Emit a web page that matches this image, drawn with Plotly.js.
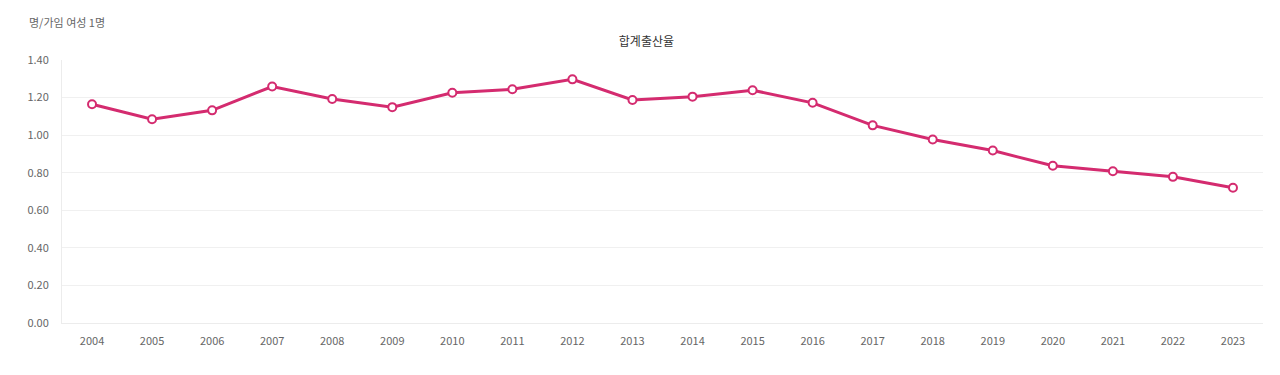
<!DOCTYPE html>
<html>
<head>
<meta charset="utf-8">
<script src="https://cdn.plot.ly/plotly-3.0.1.min.js"></script>
<style>html,body{margin:0;padding:0;background:#fff;}#chart{width:1280px;height:375px;}</style>
</head>
<body>
<div id="chart"></div>
<script>
const years = ['2004','2005','2006','2007','2008','2009','2010','2011','2012','2013','2014','2015','2016','2017','2018','2019','2020','2021','2022','2023'];
const tfr = [1.164,1.085,1.132,1.259,1.192,1.149,1.226,1.244,1.297,1.187,1.205,1.239,1.172,1.052,0.977,0.918,0.837,0.808,0.778,0.720];
const yTicks = [0,0.2,0.4,0.6,0.8,1.0,1.2,1.4];
const yTickText = ['0.00','0.20','0.40','0.60','0.80','1.00','1.20','1.40'];
const chartTitle = '합계출산율';
const unitLabel = '명/가임 여성 1명';

const font = '"Noto Sans CJK KR", "Noto Sans", sans-serif';
const trace = {
  x: years, y: tfr, type: 'scatter', mode: 'lines+markers',
  line: {color: '#d42b6f', width: 3},
  marker: {size: 8, color: '#ffffff', line: {color: '#d42b6f', width: 2}},
  hoverinfo: 'skip', cliponaxis: false
};
const layout = {
  width: 1280, height: 375,
  margin: {l: 62, r: 17, t: 60, b: 52},
  paper_bgcolor: '#fff', plot_bgcolor: '#fff',
  showlegend: false,
  font: {family: font, color: '#666', size: 11},
  title: {text: chartTitle, xref: 'container', x: 0.505, xanchor: 'center', yref: 'container', y: 1 - 42/375, yanchor: 'middle', font: {family: font, size: 12, color: '#333'}},
  xaxis: {type: 'category', range: [-0.5, years.length - 0.5], autorange: false, showgrid: false, showline: true, linecolor: '#ececec', linewidth: 1, ticks: '', tickfont: {size: 11, color: '#666'}, zeroline: false, fixedrange: true, ticklabelstandoff: 8},
  yaxis: {range: [0, 1.4], autorange: false, tickvals: yTicks, ticktext: yTickText, showgrid: true, gridcolor: '#f0f0f0', gridwidth: 1, zeroline: false, showline: true, linecolor: '#ececec', linewidth: 1, ticks: '', tickfont: {size: 11, color: '#666'}, fixedrange: true, ticklabelstandoff: 10},
  annotations: [{text: unitLabel, xref: 'paper', yref: 'paper', x: (27-62)/1201, y: (323-22)/263, xanchor: 'left', yanchor: 'middle', showarrow: false, font: {family: font, size: 11, color: '#666'}}]
};
Plotly.newPlot('chart', [trace], layout, {staticPlot: true});
</script>
</body>
</html>
